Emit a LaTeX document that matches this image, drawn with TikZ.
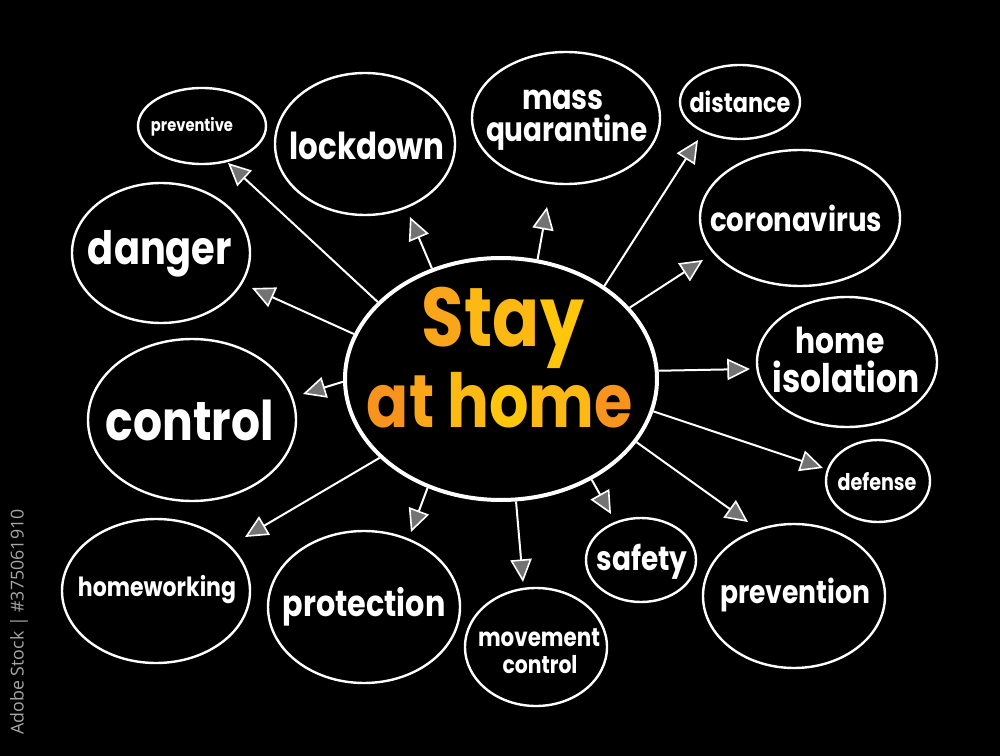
\documentclass[tikz,border=0pt]{standalone}
\usepackage{fontspec}
\setmainfont{Poppins}
\newfontfamily\wmfont{Open Sans}
\usetikzlibrary{shapes.geometric,arrows.meta}
\newcommand\fitw[2]{\resizebox{\dimexpr #1pt*3/4\relax}{!}{\scalebox{1}[1.2]{#2}}}
\newcommand\fitp[2]{\resizebox{\dimexpr #1pt*3/4\relax}{!}{#2}}
\definecolor{or1}{HTML}{F7941D}
\definecolor{or2}{HTML}{FAA61A}
\definecolor{or3}{HTML}{FDB913}
\definecolor{or4}{HTML}{FFC60B}
\begin{document}
\begin{tikzpicture}[x=0.75pt,y=-0.75pt,
  bub/.style 2 args={draw=white, line width=1.8pt, ellipse, inner sep=0pt,
    minimum width=#1*1.5pt, minimum height=#2*1.5pt},
  lbl/.style={text=white, align=center, inner sep=0pt, font=\bfseries},
  arr/.style={draw=white, line width=1.5pt,
    -{Triangle[length=17pt,width=16pt,line width=1.2pt,fill=white!45!black]}}]
\fill[black] (0,0) rectangle (1000,756);
\useasboundingbox (0,0) rectangle (1000,756);

% center
\node[bub={156}{121}, line width=3pt] (c) at (501,379) {};
\node[lbl] (stay) at (503,328) {\fitw{162}{\textcolor{or2}{S}\textcolor{or3}{t}\textcolor{or3}{a}\textcolor{or4}{y}}};
\node[lbl] (athome) at (500,400) {\fitw{266}{\textcolor{or1}{a}\textcolor{or2}{t} \textcolor{or3}{h}\textcolor{or4}{o}\textcolor{or3}{m}\textcolor{or1}{e}}};

% bubbles
\node[bub={64}{38}] (prev) at (202,126) {};
\node[lbl] (prevT) at (192,127) {\fitw{82}{preventive}};
\node[bub={90}{71}] (lock) at (365,144) {};
\node[lbl] (lockT) at (367,146) {\fitw{155}{lockdown}};
\node[bub={94}{66}] (mass) at (566,118) {};
\node[lbl] (massT1) at (563,100) {\fitw{82}{mass}};
\node[lbl] (massT2) at (567,133) {\fitw{162}{quarantine}};
\node[bub={60}{37}] (dist) at (740,102) {};
\node[lbl] (distT) at (740,102) {\fitw{101}{distance}};
\node[bub={100}{68}] (coro) at (800,218) {};
\node[lbl] (coroT) at (796,218) {\fitw{172}{coronavirus}};
\node[bub={90}{65}] (home) at (847,362) {};
\node[lbl] (homeT1) at (840,340) {\fitw{89}{home}};
\node[lbl] (homeT2) at (846,377) {\fitw{147}{isolation}};
\node[bub={52}{41}] (def) at (878,481) {};
\node[lbl] (defT) at (877,482) {\fitw{79}{defense}};
\node[bub={91}{72}] (pvn) at (794,596) {};
\node[lbl] (pvnT) at (795,595) {\fitw{150}{prevention}};
\node[bub={55}{42}] (safe) at (641,560) {};
\node[lbl] (safeT) at (642,562) {\fitw{91}{safety}};
\node[bub={71}{59}] (move) at (536,647) {};
\node[lbl] (moveT1) at (539,638) {\fitw{122}{movement}};
\node[lbl] (moveT2) at (540,665) {\fitw{75}{control}};
\node[bub={96}{76}] (prot) at (364,607) {};
\node[lbl] (protT) at (364,607) {\fitw{163}{protection}};
\node[bub={94}{72}] (hw) at (156,591) {};
\node[lbl] (hwT) at (157,590) {\fitw{158}{homeworking}};
\node[bub={104}{81}] (ctrl) at (192,420) {};
\node[lbl] (ctrlT) at (190,420) {\fitw{168}{control}};
\node[bub={89}{70}] (dang) at (161,253) {};
\node[lbl] (dangT) at (160,254) {\fitw{144}{danger}};

% arrow tips
\coordinate (tPrev) at (228,163);
\coordinate (tDang) at (252,288);
\coordinate (tCtrl) at (303,394);
\coordinate (tLock) at (410,217);
\coordinate (tMass) at (547,207);
\coordinate (tDist) at (698,140);
\coordinate (tCoro) at (703,260);
\coordinate (tHome) at (750,369);
\coordinate (tDef) at (823,468);
\coordinate (tPvn) at (748,522);
\coordinate (tSafe) at (611,514);
\coordinate (tMove) at (523,582);
\coordinate (tProt) at (411,532);
\coordinate (tHw) at (245,537);

\draw[arr] (c.148) -- (tPrev);
\draw[arr] (c.163.5) -- (tDang);
\draw[arr] (c.181) -- (tCtrl);
\draw[arr] (c.122) -- (tLock);
\draw[arr] (c.73.4) -- (tMass);
\draw[arr] (c.42.2) -- (tDist);
\draw[arr] (c.29.9) -- (tCoro);
\draw[arr] (c.3.3) -- (tHome);
\draw[arr] (c.-12.1) -- (tDef);
\draw[arr] (c.-25.9) -- (tPvn);
\draw[arr] (c.-48) -- (tSafe);
\draw[arr] (c.-83.4) -- (tMove);
\draw[arr] (c.-124.7) -- (tProt);
\draw[arr] (c.-147.9) -- (tHw);

% side credit
\node[text=white!65!black, inner sep=0pt, rotate=90, font=\wmfont] (credit) at (19,622)
  {\fitp{225}{Adobe Stock | \#375061910}};
\end{tikzpicture}
\end{document}
